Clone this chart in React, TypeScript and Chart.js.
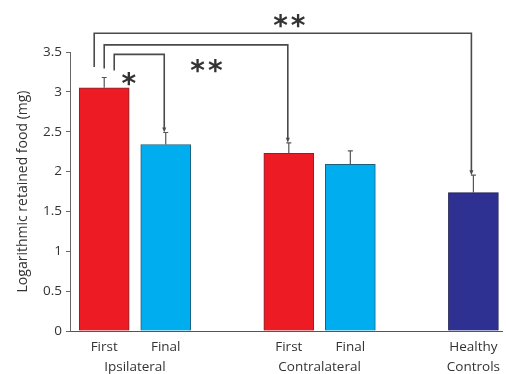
import React, { useEffect, useRef } from "react";
import { Chart, registerables } from "chart.js";

Chart.register(...registerables);

const barLabels = ["First", "Final", "First", "Final", "Healthy\nControls"];
const barGroups = ["Ipsilateral", "Ipsilateral", "Contralateral", "Contralateral", ""];
const meanValues = [3.05, 2.34, 2.23, 2.09, 1.735];
const errorValues = [0.13, 0.15, 0.13, 0.17, 0.22];
const barColors = ["#ED1C24", "#00AEEF", "#ED1C24", "#00AEEF", "#2E3192"];
const barBorderColors = ["#7a2a2a", "#1d5f7c", "#7a2a2a", "#1d5f7c", "#1c1c55"];
const yTickValues = [0, 0.5, 1, 1.5, 2, 2.5, 3, 3.5];
const yTitle = "Logarithmic retained food (mg)";

const bracketFrom = [0, 0, 0];
const bracketTo = [4, 2, 1];
const bracketLevel = [3.735, 3.59, 3.47];
const bracketMarks = ["**", "**", "*"];

// derived slot positions (one empty slot between groups)
const xPositions: number[] = [];
{
  let slot = 0;
  barLabels.forEach((_, i) => {
    if (i > 0 && barGroups[i] !== barGroups[i - 1]) slot += 1;
    xPositions.push(slot);
    slot += 1;
  });
}

const tickMap = new Map<number, string[]>();
xPositions.forEach((x, i) => tickMap.set(x, barLabels[i].split("\n")));
Array.from(new Set(barGroups))
  .filter((g) => g)
  .forEach((g) => {
    const xs = xPositions.filter((_, i) => barGroups[i] === g);
    const mid = (Math.min(...xs) + Math.max(...xs)) / 2;
    tickMap.set(mid, ["", g]);
  });
const xTickValues = Array.from(tickMap.keys()).sort((a, b) => a - b);

const FONT = '"Open Sans", "DejaVu Sans", sans-serif';

const errorBarPlugin = {
  id: "errorBars",
  afterDatasetsDraw(chart: any) {
    const ctx = chart.ctx;
    const meta = chart.getDatasetMeta(0);
    const yScale = chart.scales.y;
    ctx.save();
    ctx.strokeStyle = "#555";
    ctx.lineWidth = 1.2;
    meta.data.forEach((bar: any, i: number) => {
      const x = bar.x;
      const yTop = yScale.getPixelForValue(meanValues[i] + errorValues[i]);
      const yBar = yScale.getPixelForValue(meanValues[i]);
      ctx.beginPath();
      ctx.moveTo(x, yBar);
      ctx.lineTo(x, yTop);
      ctx.moveTo(x - 2.5, yTop);
      ctx.lineTo(x + 2.5, yTop);
      ctx.stroke();
    });
    ctx.restore();
  },
};

const bracketStyle = {
  startOffsets: [-10, 0, 10],
  endOffsets: [-2, -1, -1.5],
  startGaps: [10.5, 9, 7],
  labelOffsets: [
    [8, -14],
    [12, 19],
    [-9, 23],
  ],
};

const bracketPlugin = {
  id: "brackets",
  afterDatasetsDraw(chart: any) {
    const ctx = chart.ctx;
    const meta = chart.getDatasetMeta(0);
    const yScale = chart.scales.y;
    ctx.save();
    ctx.strokeStyle = "#4a4a4a";
    ctx.fillStyle = "#4a4a4a";
    ctx.lineWidth = 1.6;
    bracketFrom.forEach((from, k) => {
      const to = bracketTo[k];
      const x1 = meta.data[from].x + bracketStyle.startOffsets[k];
      const x2 = meta.data[to].x + bracketStyle.endOffsets[k];
      const yL = yScale.getPixelForValue(bracketLevel[k]);
      const y1 = yScale.getPixelForValue(meanValues[from] + errorValues[from]) - bracketStyle.startGaps[k];
      const y2 = yScale.getPixelForValue(meanValues[to] + errorValues[to]);
      ctx.beginPath();
      ctx.moveTo(x1, y1);
      ctx.lineTo(x1, yL);
      ctx.lineTo(x2, yL);
      ctx.lineTo(x2, y2 - 3);
      ctx.stroke();
      ctx.beginPath();
      ctx.moveTo(x2 - 2, y2 - 5);
      ctx.lineTo(x2 + 2, y2 - 5);
      ctx.lineTo(x2, y2);
      ctx.closePath();
      ctx.fill();
      const size = 28;
      ctx.font = `bold ${size}px "DejaVu Sans", sans-serif`;
      ctx.textAlign = "center";
      ctx.textBaseline = "alphabetic";
      try {
        (ctx as any).letterSpacing = "3px";
      } catch (e) {}
      const cx = (x1 + x2) / 2 + bracketStyle.labelOffsets[k][0];
      const cy = yL + bracketStyle.labelOffsets[k][1];
      ctx.fillStyle = "#333";
      ctx.fillText(bracketMarks[k], cx, cy + size * 0.56);
      ctx.fillStyle = "#4a4a4a";
    });
    ctx.restore();
  },
};

export default function App() {
  const ref = useRef<HTMLCanvasElement | null>(null);
  useEffect(() => {
    if (!ref.current) return;
    const chart = new Chart(ref.current, {
      type: "bar",
      data: {
        datasets: [
          {
            data: xPositions.map((x, i) => ({ x, y: meanValues[i] })),
            backgroundColor: barColors,
            borderColor: barBorderColors,
            borderWidth: 1,
            barThickness: 50,
          } as any,
        ],
      },
      plugins: [errorBarPlugin, bracketPlugin],
      options: {
        animation: false,
        responsive: false,
        devicePixelRatio: 1,
        layout: { padding: { top: 52, right: 0, bottom: 0, left: 0 } },
        plugins: { legend: { display: false }, tooltip: { enabled: false } },
        scales: {
          x: {
            type: "linear",
            offset: false,
            min: -0.556,
            max: 6.476,
            afterBuildTicks: (s: any) => {
              s.ticks = xTickValues.map((v) => ({ value: v }));
            },
            afterFit: (s: any) => {
              s.height = 43;
            },
            grid: { display: false, drawTicks: false, offset: false },
            border: { display: true, color: "#555", width: 1 },
            ticks: {
              autoSkip: false,
              maxRotation: 0,
              minRotation: 0,
              padding: 6,
              color: "#333",
              font: { family: FONT, size: 13.5, lineHeight: 1.5 },
              callback: (v: any) => tickMap.get(Number(v)) ?? "",
            },
          },
          y: {
            min: 0,
            max: 3.5,
            afterBuildTicks: (s: any) => {
              s.ticks = yTickValues.map((v) => ({ value: v }));
            },
            afterFit: (s: any) => {
              s.width = 70;
            },
            grid: { display: true, drawOnChartArea: false, drawTicks: true, tickLength: 4, color: "#666" },
            border: { display: true, color: "#666", width: 1 },
            ticks: {
              padding: 4,
              color: "#333",
              font: { family: FONT, size: 13.5 },
              callback: (v: any) => String(v),
            },
            title: {
              display: true,
              text: yTitle,
              color: "#333",
              font: { family: FONT, size: 14 },
              padding: { top: 15, bottom: 0 },
            },
          },
        },
      } as any,
    });
    return () => chart.destroy();
  }, []);
  return (
    <div style={{ position: "absolute", left: 0, top: 0, width: 506, height: 374 }}>
      <canvas ref={ref} width={506} height={374} style={{ display: "block" }} />
    </div>
  );
}
